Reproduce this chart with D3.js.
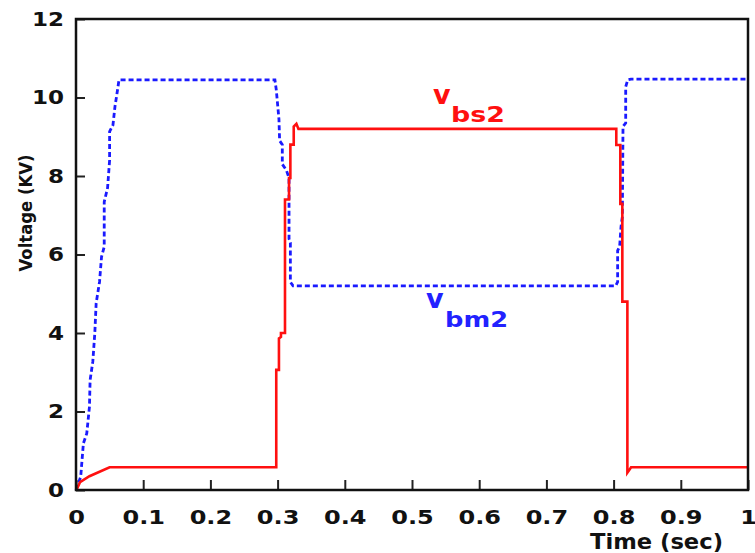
<!DOCTYPE html>
<head>
  <meta charset="utf-8" />
  <script src="https://d3js.org/d3.v7.min.js"></script>
  <title>Voltage vs Time</title>
</head>
<style>
  body { margin: 0; background: #fff; }
  svg text { font-family: "DejaVu Sans", Verdana, sans-serif; }
</style>
<body>
  <div id="container"></div>
  <script>
    // v_bm2 (blue, dotted) - time in sec, voltage in KV
    var vbm2Time = [0, 0.007, 0.011, 0.016, 0.02, 0.021, 0.025, 0.028, 0.03, 0.035, 0.038, 0.042, 0.042, 0.047, 0.05, 0.05, 0.055, 0.058, 0.061, 0.064,
      0.296, 0.298, 0.302, 0.303, 0.307, 0.307, 0.313, 0.317, 0.317, 0.319, 0.319, 0.323,
      0.803, 0.806, 0.806, 0.809, 0.811, 0.813, 0.814, 0.818, 0.818, 0.821, 0.826, 1];
    var vbm2Volt = [0, 0.34, 1.19, 1.44, 2.12, 2.8, 3.27, 4.0, 4.76, 5.3, 5.94, 6.2, 7.34, 7.7, 8.4, 9.13, 9.3, 9.77, 10.1, 10.45,
      10.45, 10.2, 9.45, 8.9, 8.8, 8.3, 8.15, 7.95, 6.4, 6.3, 5.3, 5.2,
      5.2, 5.3, 6.1, 6.2, 6.7, 6.96, 9.26, 9.35, 10.27, 10.45, 10.47, 10.47];

    // v_bs2 (red, solid)
    var vbs2Time = [0, 0.002, 0.006, 0.02, 0.05, 0.298, 0.298, 0.302, 0.302, 0.305, 0.305, 0.311, 0.311, 0.317, 0.317, 0.319, 0.319, 0.324, 0.324, 0.328, 0.331,
      0.804, 0.804, 0.81, 0.81, 0.813, 0.813, 0.8205, 0.8205, 0.823, 0.826, 1];
    var vbs2Volt = [0, 0.05, 0.2, 0.35, 0.58, 0.58, 3.06, 3.06, 3.86, 3.9, 4.0, 4.0, 7.4, 7.4, 7.95, 7.95, 8.8, 8.8, 9.26, 9.33, 9.2,
      9.2, 8.79, 8.79, 7.29, 7.29, 4.8, 4.8, 0.44, 0.5, 0.58, 0.58];

    var xTicks = [0, 0.1, 0.2, 0.3, 0.4, 0.5, 0.6, 0.7, 0.8, 0.9, 1];
    var yTicks = [0, 2, 4, 6, 8, 10, 12];

    var margin = { top: 19, right: 7, bottom: 63, left: 76 },
      width = 755 - margin.left - margin.right,
      height = 553 - margin.top - margin.bottom;

    var svg = d3
      .select("#container")
      .append("svg")
      .attr("width", 755)
      .attr("height", 553)
      .append("g")
      .attr("transform", "translate(" + margin.left + "," + margin.top + ")");

    var x = d3.scaleLinear().domain([0, 1]).range([0, width]);
    var y = d3.scaleLinear().domain([0, 12]).range([height, 0]);

    var line = d3
      .line()
      .x((d) => x(d[0]))
      .y((d) => y(d[1]));

    var blue = vbm2Time.map((t, i) => [t, vbm2Volt[i]]);
    var red = vbs2Time.map((t, i) => [t, vbs2Volt[i]]);

    svg
      .append("path")
      .datum(blue)
      .attr("fill", "none")
      .attr("stroke", "#1a1aff")
      .attr("stroke-width", 2.8)
      .attr("stroke-dasharray", "5,3")
      .attr("d", line);

    svg
      .append("path")
      .datum(red)
      .attr("fill", "none")
      .attr("stroke", "#ff1010")
      .attr("stroke-width", 2.6)
      .attr("d", line);

    // axes with inward ticks
    var xAxis = svg
      .append("g")
      .attr("transform", "translate(0," + height + ")")
      .call(d3.axisBottom(x).tickValues(xTicks).tickSize(-10).tickPadding(20).tickFormat(d3.format("")));
    var yAxis = svg
      .append("g")
      .call(d3.axisLeft(y).tickValues(yTicks).tickSize(-9).tickPadding(12));

    [xAxis, yAxis].forEach(function (a) {
      a.select(".domain").remove();
      a.selectAll("line").attr("stroke", "#222").attr("stroke-width", 2);
      a.selectAll("text")
        .attr("fill", "#111")
        .style("font-size", "20px")
        .style("font-weight", "bold");
    });
    xAxis.selectAll("text").attr("dy", "0.71em");
    // the original figure is a bit stretched sideways
    xAxis.selectAll("text").each(function () {
      var w = this.getComputedTextLength();
      d3.select(this).attr("textLength", w * 1.2).attr("lengthAdjust", "spacingAndGlyphs");
    });
    yAxis.selectAll("text").each(function () {
      var w = this.getComputedTextLength();
      d3.select(this).attr("textLength", w * 1.15).attr("lengthAdjust", "spacingAndGlyphs");
    });

    // frame
    svg
      .append("rect")
      .attr("width", width)
      .attr("height", height)
      .attr("fill", "none")
      .attr("stroke", "#111")
      .attr("stroke-width", 2.5);

    // axis titles
    svg
      .append("text")
      .attr("x", 590 - margin.left)
      .attr("y", 549 - margin.top)
      .attr("textLength", 133)
      .attr("lengthAdjust", "spacingAndGlyphs")
      .style("font-size", "21px")
      .style("font-weight", "bold")
      .attr("fill", "#111")
      .text("Time (sec)");

    svg
      .append("text")
      .attr("transform", "translate(" + (32 - margin.left) + "," + (213 - margin.top) + ") rotate(-90)")
      .style("text-anchor", "middle")
      .style("font-size", "17px")
      .style("font-weight", "bold")
      .attr("textLength", 117)
      .attr("lengthAdjust", "spacingAndGlyphs")
      .attr("fill", "#111")
      .text("Voltage (KV)");

    // series labels
    function seriesLabel(vx, vy, sub, sx, sy, len, color) {
      svg
        .append("text")
        .attr("x", vx - margin.left)
        .attr("y", vy - margin.top)
        .attr("fill", color)
        .style("font-size", "27px")
        .style("font-weight", "bold")
        .text("v");
      svg
        .append("text")
        .attr("x", sx - margin.left)
        .attr("y", sy - margin.top)
        .attr("fill", color)
        .attr("textLength", len)
        .attr("lengthAdjust", "spacingAndGlyphs")
        .style("font-size", "22px")
        .style("font-weight", "bold")
        .text(sub);
    }
    seriesLabel(433, 104, "bs2", 451, 122, 54, "#ff1010");
    seriesLabel(426, 308, "bm2", 445, 327, 63, "#2222ff");
  </script>
</body>
